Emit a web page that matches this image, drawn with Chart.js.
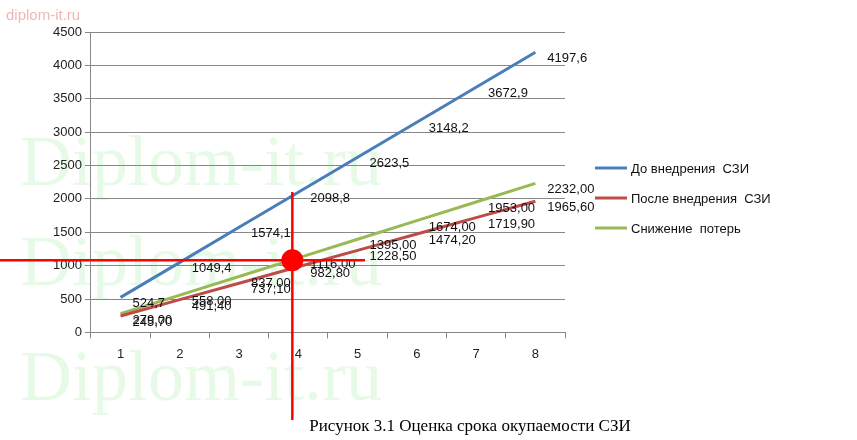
<!DOCTYPE html>
<html lang="ru">
<head>
<meta charset="UTF-8">
<title>Оценка срока окупаемости СЗИ</title>
<script src="https://cdn.jsdelivr.net/npm/chart.js"></script>
<style>
  body { margin: 0; background: #fff; }
  #wrap { width: 857px; height: 440px; position: relative; }
</style>
</head>
<body>
<div id="wrap"><canvas id="chart" width="857" height="440"></canvas></div>
<script>
// данные графика
const periods = ['1', '2', '3', '4', '5', '6', '7', '8'];
const beforeSzi = [524.7, 1049.4, 1574.1, 2098.8, 2623.5, 3148.2, 3672.9, 4197.6];
const afterSzi = [245.70, 491.40, 737.10, 982.80, 1228.50, 1474.20, 1719.90, 1965.60];
const lossCut = [279.00, 558.00, 837.00, 1116.00, 1395.00, 1674.00, 1953.00, 2232.00];
const seriesNames = ['До внедрения  СЗИ', 'После внедрения  СЗИ', 'Снижение  потерь'];
const seriesColors = ['#4a7ebb', '#be4b48', '#98b954'];
const decimals = [1, 2, 2];

// подписи значений, легенда, водяные знаки и перекрестие
const decor = {
  id: 'decor',
  beforeDraw(chart) {
    const c = chart.ctx;
    c.save();
    c.fillStyle = 'rgba(120,230,120,0.18)';
    c.font = '72px "Liberation Serif"';
    c.fillText('Diplom-it.ru', 20, 185);
    c.fillText('Diplom-it.ru', 20, 285);
    c.fillText('Diplom-it.ru', 20, 400);
    c.fillStyle = 'rgba(230,120,120,0.55)';
    c.font = '15px "Liberation Sans"';
    c.fillText('diplom-it.ru', 6, 20);
    c.restore();
  },
  afterDatasetsDraw(chart) {
    const c = chart.ctx;
    c.save();
    c.font = '13px "Liberation Sans"';
    c.fillStyle = '#111';
    chart.data.datasets.forEach((ds, i) => {
      chart.getDatasetMeta(i).data.forEach((pt, j) => {
        const txt = ds.data[j].toFixed(decimals[i]).replace('.', ',');
        c.fillText(txt, pt.x + 12, pt.y + 10);
      });
    });
    // легенда
    const lx = 595;
    seriesNames.forEach((name, i) => {
      const y = 168 + i * 30;
      c.strokeStyle = seriesColors[i];
      c.lineWidth = 3;
      c.beginPath(); c.moveTo(lx, y); c.lineTo(lx + 32, y); c.stroke();
      c.fillText(name, lx + 36, y + 5);
    });
    // перекрестие
    const x = chart.scales.x.getPixelForValue(3) - 6;
    const y = chart.scales.y.getPixelForValue(1080);
    c.strokeStyle = '#ff0000';
    c.lineWidth = 2.5;
    c.beginPath(); c.moveTo(x, 192); c.lineTo(x, 420); c.stroke();
    c.beginPath(); c.moveTo(0, y); c.lineTo(365, y); c.stroke();
    c.fillStyle = '#ff0000';
    c.beginPath(); c.arc(x, y, 11, 0, Math.PI * 2); c.fill();
    // подпись рисунка
    c.fillStyle = '#000';
    c.font = '17px "Liberation Serif"';
    c.textAlign = 'center';
    c.fillText('Рисунок 3.1 Оценка срока окупаемости СЗИ', 470, 431);
    c.restore();
  }
};

new Chart(document.getElementById('chart'), {
  type: 'line',
  data: {
    labels: periods,
    datasets: [beforeSzi, afterSzi, lossCut].map((d, i) => ({
      label: seriesNames[i],
      data: d,
      borderColor: seriesColors[i],
      borderWidth: 3,
      pointRadius: 0,
      fill: false
    }))
  },
  options: {
    responsive: false,
    animation: false,
    layout: { padding: { top: 32, left: 50, right: 292, bottom: 70 } },
    plugins: { legend: { display: false }, tooltip: { enabled: false } },
    scales: {
      x: {
        offset: true,
        grid: { display: true, drawOnChartArea: false, offset: true, color: '#888', tickLength: 6 },
        border: { color: '#888' },
        ticks: { color: '#222', padding: 8, font: { size: 13, family: 'Liberation Sans' } }
      },
      y: {
        min: 0, max: 4500,
        ticks: { stepSize: 500, color: '#222', callback: v => String(v), font: { size: 13, family: 'Liberation Sans' } },
        grid: { color: '#888', tickLength: 6 },
        border: { color: '#888' }
      }
    }
  },
  plugins: [decor]
});
</script>
</body>
</html>
